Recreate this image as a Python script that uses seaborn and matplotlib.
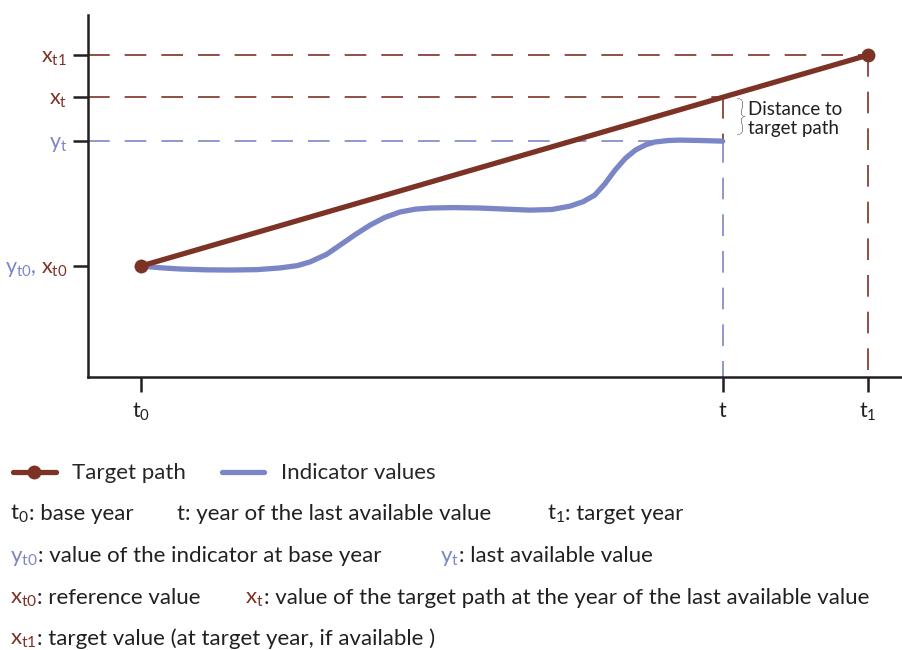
import numpy as np
import pandas as pd
import matplotlib.pyplot as plt
import seaborn as sns
from matplotlib.lines import Line2D

sns.set_theme(style='white')
plt.rcParams['font.family'] = ['Lato', 'DejaVu Sans']
plt.rcParams['mathtext.default'] = 'regular'

BROWN = '#7d3226'
BLUE = '#7b86c6'
INK = '#231f20'

# time axis (t0 = base year, t = last available, t1 = target year)
t0, t_last, t1 = 0.0, 8.0, 10.0
# target path values at t0 and t1
x_t0, x_t1 = 0.0, 10.0
# last available indicator value
y_t = 5.92

# indicator series
ind_time = [0.0, 0.3, 0.54, 0.9, 1.22, 1.6, 1.91, 2.15, 2.32, 2.55, 2.74, 2.95, 3.15,
            3.35, 3.56, 3.78, 3.98, 4.3, 4.66, 5.0, 5.35, 5.65, 5.9, 6.08, 6.24,
            6.38, 6.52, 6.66, 6.8, 6.95, 7.07, 7.25, 7.41, 7.7, 8.0]
ind_value = [0.0, -0.09, -0.14, -0.18, -0.19, -0.17, -0.09, 0.02, 0.19, 0.55, 1.0, 1.5, 1.94,
             2.3, 2.56, 2.7, 2.75, 2.77, 2.75, 2.7, 2.65, 2.68, 2.84, 3.05, 3.36,
             3.9, 4.55, 5.1, 5.5, 5.76, 5.88, 5.95, 5.97, 5.95, 5.92]

target = pd.DataFrame({'time': [t0, t1], 'value': [x_t0, x_t1]})
indicator = pd.DataFrame({'time': ind_time, 'value': ind_value})
x_t = x_t0 + (x_t1 - x_t0) * (t_last - t0) / (t1 - t0)

fig = plt.figure(figsize=(9.03, 6.50), dpi=100)
ax = fig.add_axes([88 / 903, 1 - 377 / 650, 1 - 88 / 903, (377 - 15) / 650])

dash = (0, (13, 9))
xmin = -0.73
# guide lines
ax.plot([xmin, t1], [x_t1, x_t1], color=BROWN, lw=1.2, ls=dash, zorder=1)
ax.plot([xmin, t_last], [x_t, x_t], color=BROWN, lw=1.2, ls=dash, zorder=1)
ax.plot([xmin, t_last], [y_t, y_t], color=BLUE, lw=1.2, ls=dash, zorder=1)
ax.plot([t_last, t_last], [x_t, y_t], color=BROWN, lw=1.2, ls=dash, zorder=1)
ax.plot([t_last, t_last], [y_t, -6], color=BLUE, lw=1.2, ls=dash, zorder=1)
ax.plot([t1, t1], [x_t1, -6], color=BROWN, lw=1.2, ls=dash, zorder=1)

sns.lineplot(data=indicator, x='time', y='value', sort=False, color=BLUE, lw=3.8,
             ax=ax, zorder=3)
sns.lineplot(data=target, x='time', y='value', color=BROWN, lw=3.8, marker='o',
             markersize=10, markeredgewidth=0, ax=ax, zorder=4)

ax.set_xlim(xmin, 10.48)
ax.set_ylim(-5.26, 11.9)
ax.set_xlabel('')
ax.set_ylabel('')
for s in ['top', 'right']:
    ax.spines[s].set_visible(False)
for s in ['left', 'bottom']:
    ax.spines[s].set_color(INK)
    ax.spines[s].set_linewidth(1.8)

ax.set_xticks([t0, t_last, t1])
ax.set_xticklabels(['t$_0$', 't', 't$_1$'], fontsize=15.5, color=INK)
ax.set_yticks([x_t0, y_t, x_t, x_t1])
ax.set_yticklabels(['x$_{t0}$', 'y$_t$', 'x$_t$', 'x$_{t1}$'], fontsize=15.5)
for lab, c in zip(ax.get_yticklabels(), [BROWN, BLUE, BROWN, BROWN]):
    lab.set_color(c)
ax.tick_params(axis='both', length=11, width=1.8, color=INK, direction='out',
               left=True, bottom=True)
ax.tick_params(axis='x', pad=6)
ax.tick_params(axis='y', pad=4)

fig.canvas.draw()
r = fig.canvas.get_renderer()
bb = ax.get_yticklabels()[0].get_window_extent(r)
fig.text(bb.x0 / 903 - 0.004, bb.y0 / 650, 'y$_{t0}$,', color=BLUE, fontsize=15.5,
         ha='right', va='bottom')

# bracket and note
ax.text(t_last + 0.16, (x_t + y_t) / 2, '}', fontsize=30, fontweight='light',
        color=INK, va='center', ha='left')
ax.text(t_last + 0.35, (x_t + y_t) / 2, 'Distance to\ntarget path', fontsize=13.5,
        color=INK, va='center', ha='left', linespacing=1.15)

# legend
handles = [Line2D([], [], color=BROWN, lw=3.8, marker='o', markersize=10, markeredgewidth=0),
           Line2D([], [], color=BLUE, lw=3.8)]
fig.legend(handles, ['Target path', 'Indicator values'], loc='upper left',
           bbox_to_anchor=(0.0, 1 - 450 / 650), ncol=2, frameon=False, fontsize=16,
           handlelength=1.9, handletextpad=0.75, columnspacing=1.6, borderaxespad=0.2)

# glossary lines: (x px, baseline y px, colored prefix, color, rest)
glossary = [
    (10, 520, 't$_0$', INK, ': base year'),
    (177, 520, 't', INK, ': year of the last available value'),
    (547, 520, 't$_1$', INK, ': target year'),
    (10, 562, 'y$_{t0}$', BLUE, ': value of the indicator at base year'),
    (440, 562, 'y$_t$', BLUE, ': last available value'),
    (10, 604, 'x$_{t0}$', BROWN, ': reference value'),
    (245, 604, 'x$_t$', BROWN, ': value of the target path at the year of the last available value'),
    (10, 645, 'x$_{t1}$', BROWN, ': target value (at target year, if available )'),
]
for xp, yp, pre, col, rest in glossary:
    yf = 1 - yp / 650
    p = fig.text(xp / 903, yf, pre, color=col, fontsize=16, va='baseline', ha='left')
    fig.canvas.draw()
    pb = p.get_window_extent(fig.canvas.get_renderer())
    fig.text(pb.x1 / 903, yf, rest, color=INK, fontsize=16, va='baseline', ha='left')

fig.savefig('out.png', dpi=100)
